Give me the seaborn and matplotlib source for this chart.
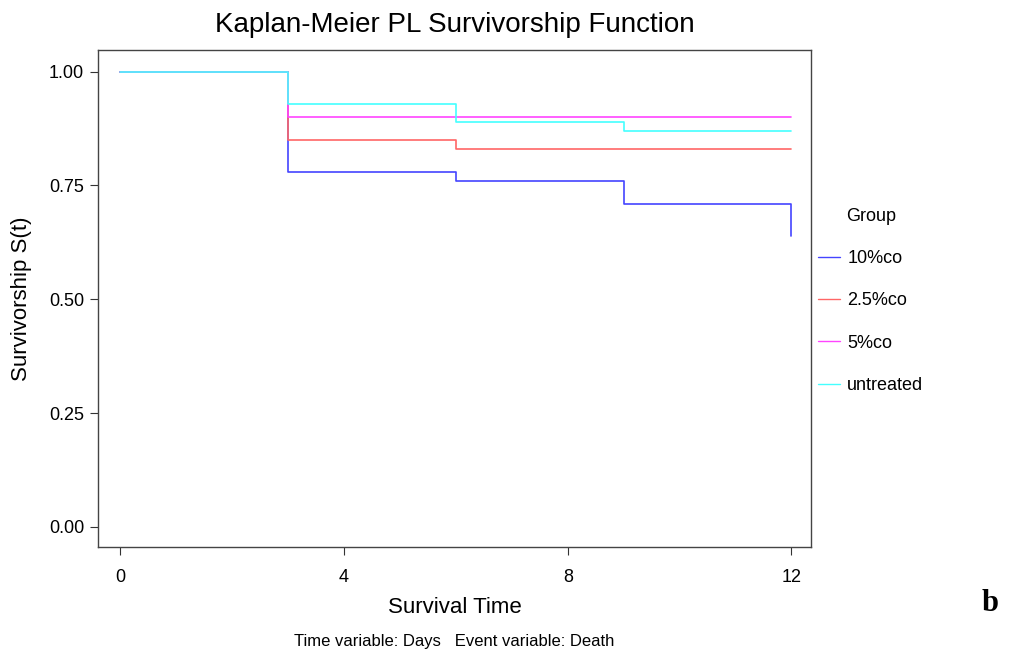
import pandas as pd
import matplotlib
matplotlib.use("Agg")
import matplotlib.pyplot as plt
import seaborn as sns

# survival curves
groups = ["10%co", "2.5%co", "5%co", "untreated"]
t_10 = [0, 3, 6, 9, 12, 12]
s_10 = [1.00, 0.78, 0.76, 0.71, 0.71, 0.64]
t_25 = [0, 3, 6, 12]
s_25 = [1.00, 0.85, 0.83, 0.83]
t_5 = [0, 3, 12]
s_5 = [1.00, 0.90, 0.90]
t_un = [0, 3, 6, 9, 12]
s_un = [1.00, 0.93, 0.89, 0.87, 0.87]

xticks = [0, 4, 8, 12]
yticks = [0.00, 0.25, 0.50, 0.75, 1.00]

rows = []
for g, tt, ss in zip(groups, [t_10, t_25, t_5, t_un], [s_10, s_25, s_5, s_un]):
    for a, b in zip(tt, ss):
        rows.append({"time": a, "surv": b, "Group": g})
df = pd.DataFrame(rows)

sns.set_style("white")
plt.rcParams["font.family"] = ["Liberation Sans", "DejaVu Sans"]
plt.rcParams["text.color"] = "black"
plt.rcParams["axes.labelcolor"] = "black"
plt.rcParams["xtick.color"] = "black"
plt.rcParams["ytick.color"] = "black"

pal = {"10%co": "#4444ff", "2.5%co": "#ff6666", "5%co": "#ff44ff", "untreated": "#44ffff"}

fig = plt.figure(figsize=(10.1, 6.55), dpi=100)
ax = fig.add_axes([0.097, 0.165, 0.706, 0.759])

sns.lineplot(data=df, x="time", y="surv", hue="Group", hue_order=groups, palette=pal,
             estimator=None, sort=False, units="Group", drawstyle="steps-post",
             linewidth=1.2, ax=ax)

ax.set_xlim(-0.4, 12.35)
ax.set_ylim(-0.044, 1.048)
ax.set_xticks(xticks)
ax.set_xticklabels([str(x) for x in xticks], fontsize=13)
ax.set_yticks(yticks)
ax.set_yticklabels([f"{y:.2f}" for y in yticks], fontsize=13)
ax.tick_params(axis="x", direction="out", length=6, pad=10, color="#333333", bottom=True)
ax.tick_params(axis="y", direction="out", length=6, pad=4, color="#333333", left=True)
for sp in ax.spines.values():
    sp.set_color("#444444")
    sp.set_linewidth(1)

ax.set_xlabel("Survival Time", fontsize=16, labelpad=8)
ax.set_ylabel("Survivorship S(t)", fontsize=16, labelpad=12)
fig.text(0.45, 0.962, "Kaplan-Meier PL Survivorship Function", fontsize=20, ha="center", va="center")
fig.text(0.45, 0.021, "Time variable: Days   Event variable: Death", fontsize=12, ha="center", va="center")
fig.text(0.98, 0.078, "b", fontsize=22, fontweight="bold", family="Liberation Serif", ha="center", va="center")

leg = ax.legend(title="Group", loc="center left", bbox_to_anchor=(1.0, 0.495), frameon=False,
                fontsize=13, title_fontsize=13, handlelength=1.2, labelspacing=1.4,
                handletextpad=0.4, borderaxespad=0.0)
for h in leg.get_lines():
    h.set_linewidth(1)

fig.savefig("out.png", dpi=100)
